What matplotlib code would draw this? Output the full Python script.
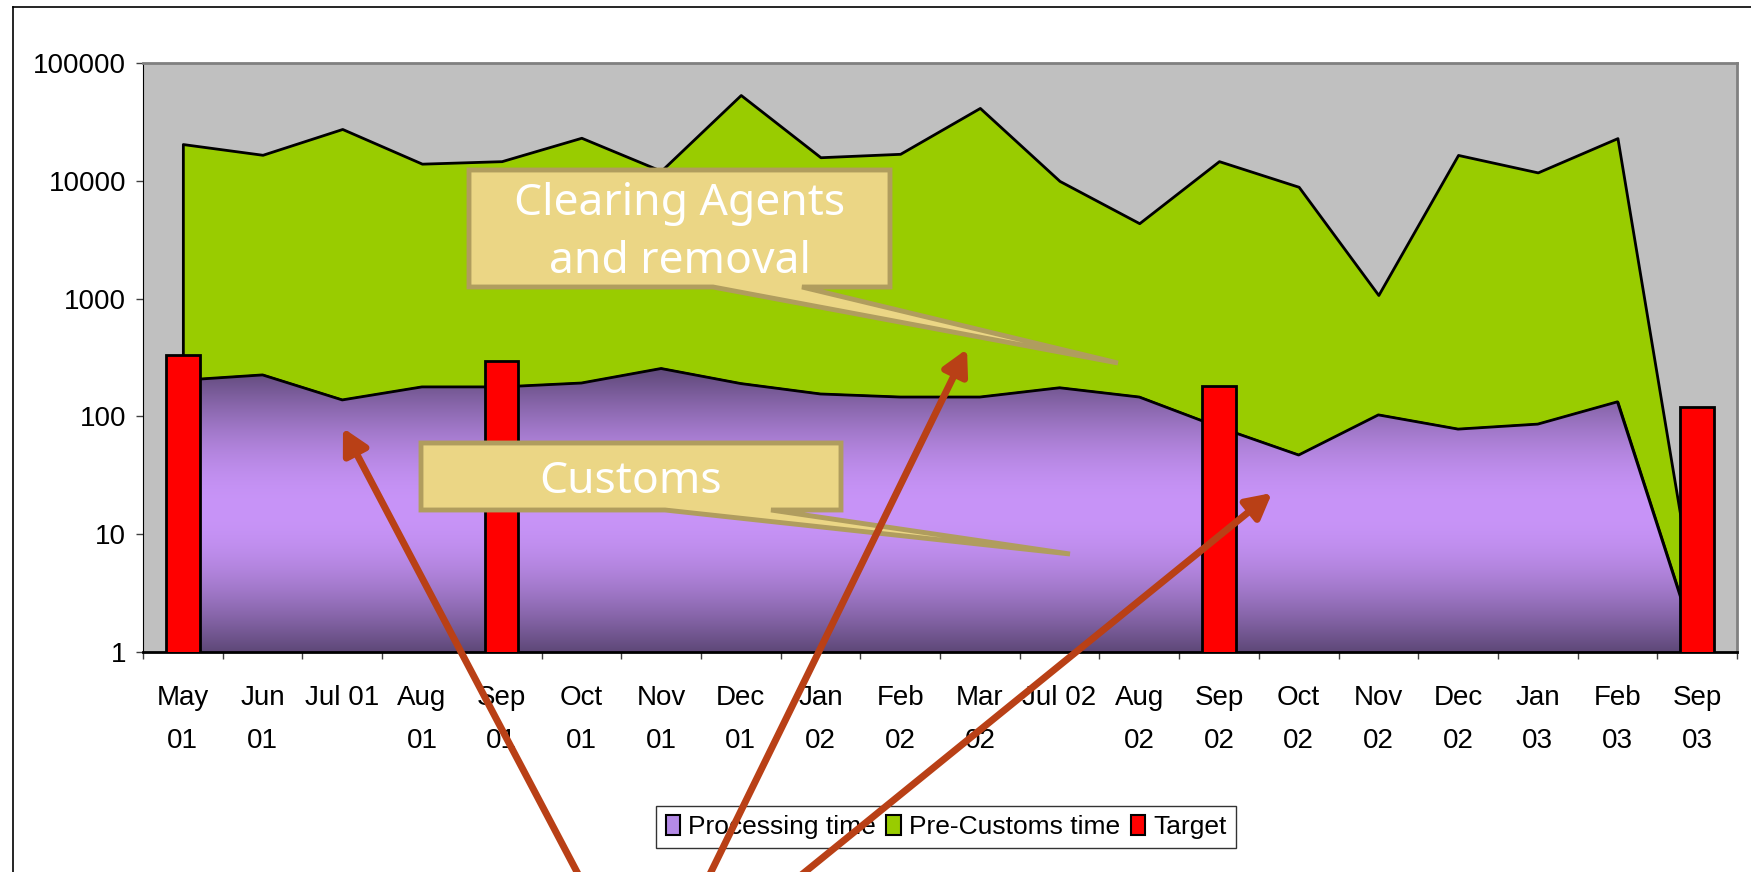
import numpy as np
import matplotlib
matplotlib.use('Agg')
import matplotlib.pyplot as plt
from matplotlib import font_manager as fm
from matplotlib.patches import Polygon, Patch, FancyArrowPatch
from matplotlib.lines import Line2D
from matplotlib.ticker import NullLocator

W, H = 1751, 872

months = ['May\n01', 'Jun\n01', 'Jul 01', 'Aug\n01', 'Sep\n01', 'Oct\n01', 'Nov\n01',
          'Dec\n01', 'Jan\n02', 'Feb\n02', 'Mar\n02', 'Jul 02', 'Aug\n02', 'Sep\n02',
          'Oct\n02', 'Nov\n02', 'Dec\n02', 'Jan\n03', 'Feb\n03', 'Sep\n03']
processing = [203, 225, 138, 178, 178, 192, 255, 190, 155, 146, 146, 175, 146, 81,
              47, 103, 78, 86, 133, 1.07]
pre_customs = [20300, 16400, 27400, 13800, 14500, 23000, 11900, 53300, 15700, 16800,
               41400, 9800, 4220, 14600, 8850, 970, 16500, 11700, 22900, 0.93]
target = [330, 0, 0, 0, 295, 0, 0, 0, 0, 0, 0, 0, 0, 181, 0, 0, 0, 0, 0, 120]
yticks = [1, 10, 100, 1000, 10000, 100000]
legend_labels = ['Processing time', 'Pre-Customs time', 'Target']

names = {f.name for f in fm.fontManager.ttflist}
if 'Liberation Sans Narrow' in names:
    tick_font, tick_size = 'Liberation Sans Narrow', 22
else:
    tick_font, tick_size = 'Liberation Sans', 20
call_font = 'Noto Sans'

fig = plt.figure(figsize=(W / 100, H / 100), dpi=100)
fig.patch.set_facecolor('white')
ax = fig.add_axes([143 / W, 1 - 652 / H, (1737 - 143) / W, (652 - 63) / H])

x = np.arange(len(months))
proc = np.array(processing)
total = proc + np.array(pre_customs)
tgt = np.array(target, dtype=float)

ax.set_facecolor('#c0c0c0')
ax.set_yscale('log')
ax.set_xlim(-0.5, len(months) - 0.5)
ax.set_ylim(1, 100000)
ax.set_autoscale_on(False)

# green (pre-customs) stacked on top of processing
ax.fill_between(x, proc, total, facecolor='#99cc00', edgecolor='black', lw=2, zorder=1)
purple = ax.fill_between(x, 0.1, proc, facecolor='none', edgecolor='black', lw=2, zorder=2)

# vertical gradient for the processing area
t = np.linspace(0, 1, 256)[:, None]
f = np.sin(np.pi * t)
dark = np.array([0x5e, 0x48, 0x78]) / 255
light = np.array([0xc8, 0x94, 0xf8]) / 255
grad = dark + (light - dark) * f[..., None]
ytop = np.log10(proc.max()) / 5
im = ax.imshow(grad, extent=[0, 1, 0, ytop], transform=ax.transAxes, aspect='auto',
               origin='lower', zorder=1.5, interpolation='bilinear')
im.set_clip_path(purple.get_paths()[0], transform=ax.transData)

m = tgt > 0
ax.bar(x[m], tgt[m], width=0.42, color='#ff0000', edgecolor='black', lw=2, zorder=3)

ax.set_xticks(x)
ax.set_xticklabels(months, fontfamily=tick_font, fontsize=tick_size, linespacing=1.85)
ax.set_xticks(np.arange(-0.5, len(months), 1), minor=True)
ax.tick_params(axis='x', which='major', length=0, pad=24)
ax.tick_params(axis='x', which='minor', length=5, width=1, color='#404040')
ax.set_yticks(yticks)
ax.set_yticklabels([str(v) for v in yticks], fontfamily=tick_font, fontsize=tick_size)
ax.yaxis.set_minor_locator(NullLocator())
ax.tick_params(axis='y', length=5, width=1, pad=7, color='#404040')

ax.spines['left'].set_color('black')
ax.spines['bottom'].set_color('black')
ax.spines['bottom'].set_linewidth(2)
for s in ('top', 'right'):
    ax.spines[s].set_color('#808080')
    ax.spines[s].set_linewidth(2)


def fpt(px, py):
    return (px / W, 1 - py / H)


def callout(l, tp, r, b, wl, wr, tip, text, ty):
    pts = [(l, tp), (r, tp), (r, b), (wr, b), tip, (wl, b), (l, b)]
    poly = Polygon([fpt(*p) for p in pts], closed=True, facecolor='#ebd685',
                   edgecolor='#b09d5e', lw=3.5, joinstyle='miter',
                   transform=fig.transFigure, zorder=6)
    fig.add_artist(poly)
    fig.text(*fpt((l + r) / 2, ty), text, color='white', fontfamily=call_font,
             fontsize=32, ha='center', va='center', linespacing=1.45, zorder=7)


callout(469, 170, 890, 287, 713, 802, (1118, 363), 'Clearing Agents\nand removal', 233)
callout(421, 443, 841, 510, 665, 771, (1070, 554), 'Customs', 482)

# outer chart frame
fig.add_artist(Line2D([13 / W, 13 / W], [0, 1 - 7 / H], color='black', lw=1.2,
                      transform=fig.transFigure))
fig.add_artist(Line2D([13 / W, 1], [1 - 7 / H, 1 - 7 / H], color='black', lw=1.2,
                      transform=fig.transFigure))

handles = [Patch(facecolor='#b48ae6', edgecolor='black', lw=1.5),
           Patch(facecolor='#99cc00', edgecolor='black', lw=1.5),
           Patch(facecolor='#ff0000', edgecolor='black', lw=1.5)]
leg = fig.legend(handles, legend_labels, loc='center', bbox_to_anchor=fpt(946, 827),
                 ncol=3, frameon=True, fancybox=False, edgecolor='black',
                 handlelength=0.55, handleheight=0.8, handletextpad=0.3,
                 columnspacing=0.4, borderpad=0.35,
                 prop=dict(family=tick_font, size=tick_size - 1))
leg.get_frame().set_linewidth(1)

# pointer arrows coming from below the slide
arrows = [((343, 428), (577, 872)), ((967, 349), (711, 872)), ((1272, 493), (805, 872))]
for tip, through in arrows:
    k = (900 - tip[1]) / (through[1] - tip[1])
    tail = (tip[0] + k * (through[0] - tip[0]), 900)
    a = FancyArrowPatch(fpt(*tail), fpt(*tip), arrowstyle='-|>,head_length=0.75,head_width=0.4',
                        mutation_scale=20, lw=5, color='#b94016', shrinkA=0, shrinkB=0,
                        transform=fig.transFigure, zorder=10)
    fig.add_artist(a)

plt.savefig('out.png', dpi=100)
